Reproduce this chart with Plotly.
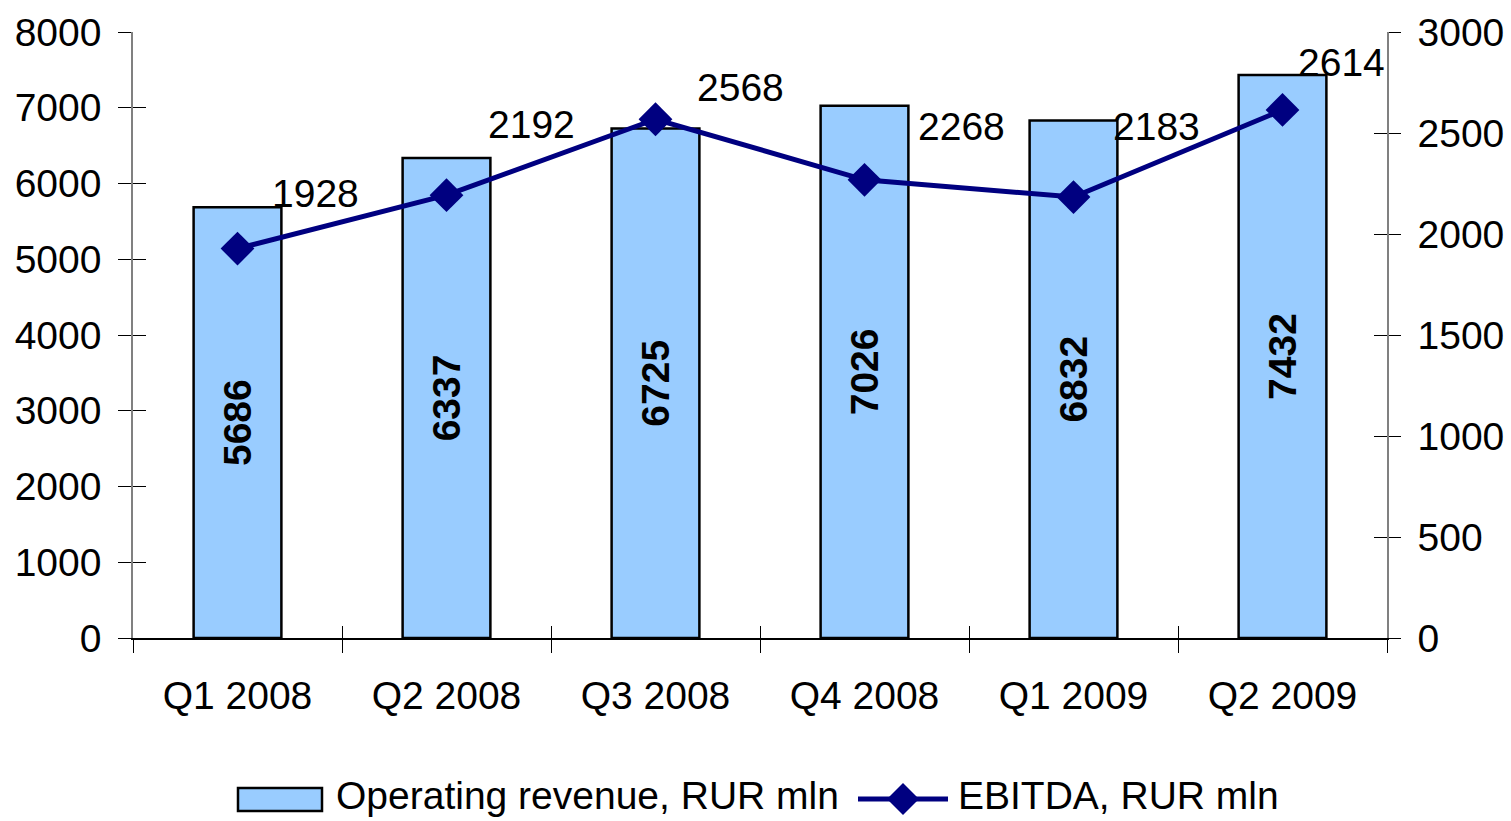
import plotly.graph_objects as go

categories = ["Q1 2008", "Q2 2008", "Q3 2008", "Q4 2008", "Q1 2009", "Q2 2009"]
revenue = [5686, 6337, 6725, 7026, 6832, 7432]
ebitda = [1928, 2192, 2568, 2268, 2183, 2614]
left_ticks = [0, 1000, 2000, 3000, 4000, 5000, 6000, 7000, 8000]
right_ticks = [0, 500, 1000, 1500, 2000, 2500, 3000]
revenue_name = "Operating revenue, RUR mln"
ebitda_name = "EBITDA, RUR mln"

# label offsets (pixels) for EBITDA labels relative to points
label_dx = [78, 85, 85, 97, 83, 59]
label_dy = [55, 71, 32, 53, 71, 47]

FONT = "Liberation Sans, Arial, sans-serif"
FS = 39
W, H = 1511, 821
L, R, T, B = 133, 124, 32, 183
PW, PH = W - L - R, H - T - B

def px(xp):
    return (xp - L) / PW

def py(yp):
    return (H - B - yp) / PH

fig = go.Figure()
fig.add_trace(go.Bar(
    x=categories, y=revenue, name=revenue_name, width=0.42,
    marker=dict(color="#99CCFF", line=dict(color="black", width=2.5)),
    text=[str(v) for v in revenue], textposition="inside", insidetextanchor="middle",
    textangle=-90, textfont=dict(family=FONT, size=FS, color="black", weight="bold"),
    cliponaxis=False, showlegend=False,
))
fig.add_trace(go.Scatter(
    x=categories, y=ebitda, name=ebitda_name, yaxis="y2", mode="lines+markers",
    line=dict(color="#000080", width=5),
    marker=dict(symbol="diamond", size=26, color="#000080"),
    cliponaxis=False, showlegend=False,
))
# helper traces so overlay axes (inside tick halves) are drawn
fig.add_trace(go.Scatter(x=[], y=[], xaxis="x2", yaxis="y", showlegend=False, hoverinfo="skip"))
fig.add_trace(go.Scatter(x=[], y=[], xaxis="x", yaxis="y3", showlegend=False, hoverinfo="skip"))
fig.add_trace(go.Scatter(x=[], y=[], xaxis="x", yaxis="y4", showlegend=False, hoverinfo="skip"))

tickfont = dict(family=FONT, size=FS, color="black")
n = len(categories)
bounds = [i - 0.5 for i in range(n + 1)]

fig.update_layout(
    width=W, height=H,
    margin=dict(l=L, r=R, t=T, b=B, pad=0, autoexpand=False),
    paper_bgcolor="white", plot_bgcolor="white",
    font=dict(family=FONT, size=FS, color="black"),
    xaxis=dict(type="category", range=[-0.5, n - 0.5], tickson="boundaries",
               ticks="outside", ticklen=13, tickwidth=1.3, tickcolor="black",
               showline=True, linecolor="black", linewidth=1.5, automargin=False,
               showgrid=False, zeroline=False, tickfont=tickfont, ticklabelstandoff=22),
    xaxis2=dict(overlaying="x", range=[-0.5, n - 0.5], tickvals=bounds, ticks="inside",
                ticklen=12, tickwidth=1.3, tickcolor="black", showticklabels=False,
                automargin=False,
                showline=False, showgrid=False, zeroline=False, side="bottom"),
    yaxis=dict(range=[0, 8000], tickvals=left_ticks, ticks="outside", ticklen=13,
               tickwidth=1.3, tickcolor="black", showline=True, linecolor="#808080",
               linewidth=1.5, showgrid=False, zeroline=False, tickfont=tickfont,
               automargin=False, ticklabelstandoff=9),
    yaxis3=dict(overlaying="y", side="left", range=[0, 8000], tickvals=left_ticks,
                ticks="inside", ticklen=13, tickwidth=1.3, tickcolor="black",
                automargin=False,
                showticklabels=False, showline=False, showgrid=False, zeroline=False),
    yaxis2=dict(overlaying="y", side="right", range=[0, 3000], tickvals=right_ticks,
                ticks="outside", ticklen=12, tickwidth=1.3, tickcolor="black",
                showline=True, linecolor="#808080", linewidth=1.5, showgrid=False,
                automargin=False,
                zeroline=False, tickfont=tickfont, ticklabelstandoff=9),
    yaxis4=dict(overlaying="y", side="right", range=[0, 3000], tickvals=right_ticks,
                ticks="inside", ticklen=13, tickwidth=1.3, tickcolor="black",
                automargin=False,
                showticklabels=False, showline=False, showgrid=False, zeroline=False),
)

annotations = []
for c, v, dx, dy in zip(categories, ebitda, label_dx, label_dy):
    annotations.append(dict(x=c, y=v, xref="x", yref="y2", text=str(v), showarrow=False,
                            xanchor="center", yanchor="middle", xshift=dx, yshift=dy,
                            font=dict(family=FONT, size=FS, color="black")))

# manual legend
shapes = []
shapes.append(dict(type="rect", xref="paper", yref="paper",
                   x0=px(238), x1=px(322), y0=py(811), y1=py(788),
                   fillcolor="#99CCFF", line=dict(color="black", width=2.5)))
annotations.append(dict(x=px(334), y=py(795), xref="paper", yref="paper", text=revenue_name,
                        showarrow=False, xanchor="left", yanchor="middle",
                        font=dict(family=FONT, size=FS, color="black")))
shapes.append(dict(type="line", xref="paper", yref="paper",
                   x0=px(858), x1=px(948), y0=py(799), y1=py(799),
                   line=dict(color="#000080", width=5)))
shapes.append(dict(type="path", xref="paper", yref="paper", xsizemode="pixel", ysizemode="pixel",
                   xanchor=px(903), yanchor=py(799),
                   path="M -16 0 L 0 16 L 16 0 L 0 -16 Z",
                   fillcolor="#000080", line=dict(color="#000080", width=0)))
annotations.append(dict(x=px(956), y=py(795), xref="paper", yref="paper", text=ebitda_name,
                        showarrow=False, xanchor="left", yanchor="middle",
                        font=dict(family=FONT, size=FS, color="black")))

fig.update_layout(annotations=annotations, shapes=shapes)
fig.write_html("out.html")
